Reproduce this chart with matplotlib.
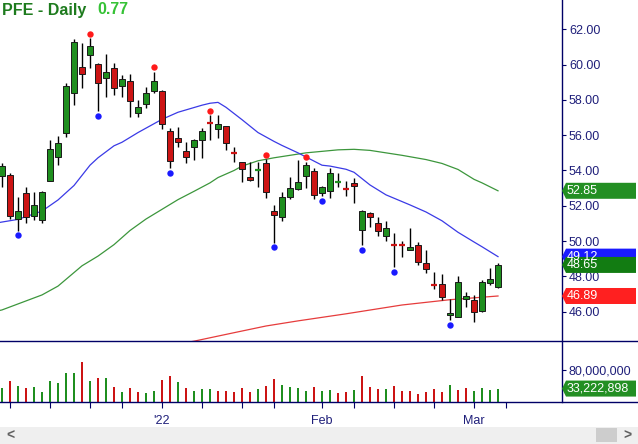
import matplotlib
matplotlib.use("Agg")
import matplotlib.pyplot as plt
from matplotlib.patches import Rectangle, Polygon
from matplotlib.lines import Line2D
from matplotlib.transforms import IdentityTransform

plt.rcParams['font.family'] = ['Liberation Sans', 'DejaVu Sans']

# ---------------- data ----------------
opens = [53.69, 53.74, 51.24, 52.71, 51.44, 51.18, 53.39, 54.75, 56.11, 58.37,
         59.88, 60.56, 60.03, 59.22, 59.79, 58.81, 59.05, 57.28, 57.75, 58.52,
         58.50, 56.24, 55.82, 55.12, 55.31, 55.73, 56.76, 56.33, 56.52, 55.03,
         54.48, 53.61, 54.01, 54.41, 51.69, 51.35, 52.52, 52.97, 53.70, 53.99,
         52.71, 52.82, 53.31, 53.01, 53.29, 50.61, 51.61, 51.01, 50.29, 49.80,
         49.80, 49.51, 49.78, 48.74, 47.53, 47.57, 45.80, 45.72, 46.72, 46.68,
         46.04, 47.61, 47.42]
highs = [54.44, 53.84, 52.52, 53.08, 52.80, 52.84, 55.73, 55.95, 58.97, 61.43,
         61.24, 61.49, 60.07, 60.60, 60.07, 59.41, 59.47, 57.99, 58.71, 59.60,
         58.56, 56.39, 56.45, 55.63, 55.80, 56.39, 57.14, 57.14, 56.52, 55.35,
         54.50, 54.50, 54.50, 54.63, 52.05, 52.80, 53.61, 54.60, 54.50, 54.12,
         53.12, 54.12, 53.84, 53.41, 53.56, 51.76, 51.67, 51.38, 51.16, 50.44,
         50.02, 50.73, 49.93, 49.50, 48.27, 48.14, 46.70, 48.02, 47.12, 46.93,
         47.80, 48.50, 48.74]
lows = [53.08, 51.24, 50.60, 51.01, 51.20, 51.04, 53.39, 54.29, 55.88, 57.73,
        58.67, 59.82, 57.35, 58.18, 58.28, 58.18, 57.05, 57.05, 57.52, 58.41,
        56.33, 54.12, 55.35, 54.44, 54.60, 54.69, 55.73, 55.82, 55.16, 54.46,
        53.37, 53.42, 53.05, 52.42, 49.92, 51.16, 52.37, 52.90, 52.99, 52.37,
        52.57, 52.42, 53.05, 52.56, 52.18, 49.78, 50.82, 50.29, 50.02, 48.55,
        49.12, 49.50, 48.65, 48.18, 47.27, 46.66, 45.53, 45.68, 46.25, 45.40,
        46.00, 47.51, 47.36]
closes = [54.25, 51.44, 51.69, 51.35, 52.05, 52.76, 55.20, 55.54, 58.79, 61.26,
          59.45, 61.05, 58.94, 59.56, 58.69, 59.17, 57.95, 57.58, 58.37, 59.05,
          56.62, 54.54, 55.60, 54.78, 55.73, 56.24, 56.70, 56.63, 55.54, 54.99,
          54.07, 53.46, 54.05, 52.76, 51.50, 52.48, 52.99, 53.33, 54.29, 52.61,
          53.05, 53.84, 53.35, 52.97, 53.14, 51.71, 51.38, 50.56, 50.73, 49.76,
          49.76, 49.67, 48.83, 48.44, 47.49, 46.82, 45.93, 47.66, 46.87, 45.97,
          47.66, 47.85, 48.65]
volumes_m = [33.8, 52.0, 39.6, 34.7, 37.1, 24.8, 52.0, 47.0, 71.8, 71.8,
             99.0, 52.0, 59.4, 59.4, 37.1, 24.8, 34.7, 24.8, 22.3, 27.2,
             54.5, 64.4, 49.5, 34.7, 27.2, 32.2, 32.2, 27.2, 27.2, 24.8,
             34.7, 24.8, 32.2, 39.6, 56.9, 42.1, 37.1, 34.7, 27.2, 37.1,
             27.2, 29.7, 22.3, 24.8, 29.7, 64.4, 37.1, 32.2, 32.2, 39.6,
             27.2, 27.2, 19.8, 24.8, 32.2, 24.8, 42.1, 29.7, 34.7, 27.2,
             34.7, 29.7, 33.22]
volume_up = "grgrggggggrgrgrgrrggrrgrgggrrrrrgrrggggrggrrgrrrgrrrrrrrgrrggg"

# swing markers (bar indices)
swing_high_idx = [11, 19, 26, 33, 38]
swing_low_idx = [2, 12, 21, 34, 40, 45, 49, 56]

# moving averages (bar index, value)
ma20_idx = [-1, 0, 2, 5, 7, 9, 11, 12, 14, 15, 17, 20, 22, 25, 26, 27, 28, 30,
            32, 34, 35, 37, 40, 41, 43, 44, 46, 48, 51, 53, 55, 57, 59, 60, 62]
ma20_val = [51.0, 51.08, 51.23, 51.7, 52.33, 53.15, 54.3, 54.72, 55.4, 55.6,
            56.15, 56.9, 57.3, 57.7, 57.81, 57.86, 57.58, 56.88, 56.15, 55.65,
            55.42, 55.0, 54.3, 54.25, 54.07, 53.9, 53.18, 52.62, 52.05, 51.65,
            51.15, 50.5, 49.95, 49.68, 49.12]
ma50_idx = [-1, 0, 5, 7, 10, 12, 14, 16, 18, 22, 24, 26, 27, 29, 30, 32, 34,
            38, 42, 44, 46, 50, 53, 55, 57, 59, 60, 62]
ma50_val = [46.0, 46.1, 46.95, 47.45, 48.6, 49.15, 49.8, 50.6, 51.25, 52.35,
            52.82, 53.3, 53.6, 54.0, 54.25, 54.55, 54.72, 55.0, 55.17, 55.2,
            55.14, 54.86, 54.62, 54.4, 54.06, 53.5, 53.3, 52.85]
ma200_idx = [23, 24, 29, 33, 37, 40, 43, 50, 56, 62]
ma200_val = [44.25, 44.33, 44.81, 45.19, 45.48, 45.68, 45.88, 46.38, 46.68, 46.89]

xtick_pos = [1, 6, 11, 15, 20, 25, 30, 34, 40, 44, 49, 54, 59, 63]
xtick_labels = ['', '', '', '', "'22", '', '', '', 'Feb', '', '', '', 'Mar', '']
price_ticks = [46, 48, 50, 52, 54, 56, 58, 60, 62]
volume_ticks = [80]

ticker = "PFE - Daily"
change_text = "0.77"
last_volume_label = "33,222,898"

# ---------------- styling ----------------
W, H = 638, 444
NAVY = '#000066'
LABEL = '#1f1f7a'
GREEN = '#1f8f1f'
RED = '#cc1414'
EDGE = '#1a1a1a'

def fx(px):
    return px / W

def fy(py):
    return 1 - py / H

fig = plt.figure(figsize=(W / 100, H / 100), dpi=100)
fig.patch.set_facecolor('white')

ax = fig.add_axes([0, fy(341), 562 / W, 341 / H])
axv = fig.add_axes([0, fy(402), 562 / W, 61 / H])

for a in (ax, axv):
    for s in a.spines.values():
        s.set_visible(False)
    a.set_facecolor('white')
    a.set_xlim(-0.25, 70)

ax.set_ylim(44.34, 63.66)
axv.set_ylim(0, 151)

# ---------------- candles ----------------
bw = 0.75
for i, (o, h, l, c) in enumerate(zip(opens, highs, lows, closes)):
    col = GREEN if c >= o else RED
    ax.plot([i, i], [l, h], color='black', lw=1.0, zorder=3, solid_capstyle='butt')
    if abs(c - o) < 0.06:
        ax.plot([i - bw / 2, i + bw / 2], [c, c], color=col, lw=1.6, zorder=4,
                solid_capstyle='butt')
    else:
        ax.add_patch(Rectangle((i - bw / 2, min(o, c)), bw, abs(c - o),
                               facecolor=col, edgecolor=EDGE, lw=0.7, zorder=4))

# moving averages
ax.plot(ma50_idx, ma50_val, color='#3c963c', lw=0.9, zorder=2)
ax.plot(ma20_idx, ma20_val, color='#3a3ae6', lw=0.9, zorder=2)
ax.plot(ma200_idx, ma200_val, color='#e63c3c', lw=0.9, zorder=2)

# swing dots
ax.plot(swing_high_idx, [highs[i] + 0.25 for i in swing_high_idx], 'o',
        color='#ff1a1a', ms=4.6, mec='none', zorder=5)
ax.plot(swing_low_idx, [lows[i] - 0.28 for i in swing_low_idx], 'o',
        color='#1a1aff', ms=4.6, mec='none', zorder=5)

# volume bars
vcols = [GREEN if v == 'g' else RED for v in volume_up]
axv.bar(range(len(volumes_m)), volumes_m, width=0.28, color=vcols, zorder=3)

# ---------------- ticks ----------------
ax.set_xticks([])
ax.yaxis.tick_right()
ax.set_yticks(price_ticks)
ax.set_yticklabels([f"{t:.2f}" for t in price_ticks])
ax.tick_params(axis='y', direction='out', length=3, width=0.8, color=NAVY,
               labelcolor=LABEL, labelsize=9, pad=2)

axv.yaxis.tick_right()
axv.set_yticks(volume_ticks)
axv.set_yticklabels([f"{int(t * 1e6):,}" for t in volume_ticks])
axv.tick_params(axis='y', direction='out', length=3, width=0.8, color=NAVY,
                labelcolor=LABEL, labelsize=9, pad=2)
axv.set_xticks(xtick_pos)
axv.set_xticklabels(xtick_labels)
axv.tick_params(axis='x', direction='out', length=4, width=0.8, color=NAVY,
                labelcolor=LABEL, labelsize=9, pad=5)

# frame lines
fig.add_artist(Line2D([fx(562), fx(562)], [fy(0), fy(402)], color=NAVY, lw=1.0))
fig.add_artist(Line2D([0, 1], [fy(341), fy(341)], color=NAVY, lw=1.0))
fig.add_artist(Line2D([0, 1], [fy(402), fy(402)], color=NAVY, lw=1.0))

# ---------------- badges ----------------
def badge(axis, value, text, color):
    yd = axis.transData.transform((0, value))[1]
    pts = [(562, yd), (566, yd + 8), (636, yd + 8), (636, yd - 8), (566, yd - 8)]
    fig.add_artist(Polygon(pts, closed=True, transform=IdentityTransform(),
                           facecolor=color, edgecolor='none', zorder=10))
    fig.text(fx(567), yd / H, text, color='white', fontsize=9, va='center',
             ha='left', zorder=11)

badge(ax, ma50_val[-1], f"{ma50_val[-1]:.2f}", '#238f23')
badge(ax, ma20_val[-1], f"{ma20_val[-1]:.2f}", '#1a1aff')
badge(ax, closes[-1], f"{closes[-1]:.2f}", '#127c12')
badge(ax, ma200_val[-1], f"{ma200_val[-1]:.2f}", '#ff2020')
badge(axv, volumes_m[-1], last_volume_label, '#238f23')

# ---------------- title ----------------
fig.text(fx(2), fy(10), ticker, color='#1e7b1e', fontsize=11.5,
         fontweight='bold', va='center', ha='left')
fig.text(fx(97), fy(10), change_text, color='#36c236', fontsize=11.5,
         fontweight='bold', va='center', ha='left')

# ---------------- scrollbar ----------------
fig.add_artist(Rectangle((0, 0), 1, 17 / H, transform=fig.transFigure,
                         facecolor='#efefef', edgecolor='none'))
fig.add_artist(Rectangle((fx(596), 2 / H), 21 / W, 14 / H, transform=fig.transFigure,
                         facecolor='#cdcdcd', edgecolor='none'))
fig.text(fx(10), 8.5 / H, '<', color='#606060', fontsize=10, va='center', ha='center',
         fontweight='bold')
fig.text(fx(627), 8.5 / H, '>', color='#606060', fontsize=10, va='center', ha='center',
         fontweight='bold')

fig.savefig('out.png', dpi=100)
